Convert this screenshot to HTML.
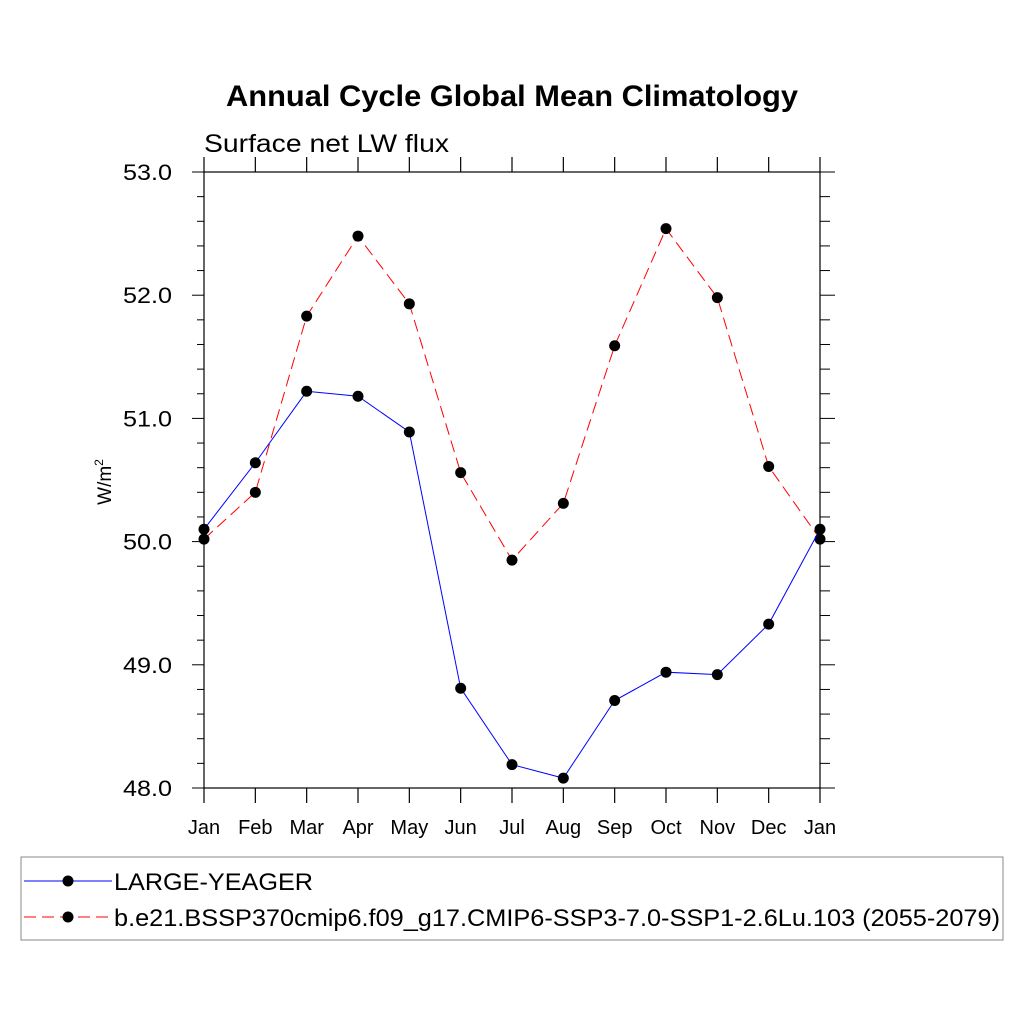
<!DOCTYPE html>
<html><head><meta charset="utf-8"><style>
body{margin:0;background:#fff;}
svg{display:block;font-family:"Liberation Sans",sans-serif;}
</style></head><body>
<svg id="c" width="1024" height="1024" viewBox="0 0 1024 1024">
<text x="226" y="106" textLength="572" lengthAdjust="spacingAndGlyphs" font-size="30" font-weight="bold">Annual Cycle Global Mean Climatology</text>
<text x="204" y="152" textLength="245" lengthAdjust="spacingAndGlyphs" font-size="25">Surface net LW flux</text>
<text transform="translate(111,482) rotate(-90)" text-anchor="middle" font-size="19">W/m<tspan dy="-8" font-size="12">2</tspan></text>
<g id="axes"></g>
<g id="series"></g>
<rect x="21" y="857" width="982" height="83" fill="none" stroke="#888" stroke-width="1"/>
<g>
<line x1="24" y1="881" x2="112" y2="881" stroke="#0000ff" stroke-width="1"/>
<circle cx="68" cy="881" r="5.5" fill="#000"/>
<text x="114" y="890" textLength="199" lengthAdjust="spacingAndGlyphs" font-size="24">LARGE-YEAGER</text>
</g>
<g>
<line x1="24" y1="917" x2="112" y2="917" stroke="#ff0000" stroke-width="1" stroke-dasharray="12,6"/>
<circle cx="68" cy="917" r="5.5" fill="#000"/>
<text x="114" y="926" textLength="886" lengthAdjust="spacingAndGlyphs" font-size="24">b.e21.BSSP370cmip6.f09_g17.CMIP6-SSP3-7.0-SSP1-2.6Lu.103 (2055-2079)</text>
</g>
</svg>
<script>
const months = ["Jan","Feb","Mar","Apr","May","Jun","Jul","Aug","Sep","Oct","Nov","Dec","Jan"];
const blueValues = [50.10,50.64,51.22,51.18,50.89,48.81,48.19,48.08,48.71,48.94,48.92,49.33,50.10];
const redValues = [50.02,50.40,51.83,52.48,51.93,50.56,49.85,50.31,51.59,52.54,51.98,50.61,50.02];
const yTickLabels = ["48.0","49.0","50.0","51.0","52.0","53.0"];
const yMin = 48, yMax = 53;

const NS = "http://www.w3.org/2000/svg";
const X0=204, X1=820, Y0=788, Y1=172;
const xs = i => X0 + (X1-X0)*i/(months.length-1);
const ys = v => Y0 - (Y0-Y1)*(v-yMin)/(yMax-yMin);
function mk(tag, attrs, parent){const e=document.createElementNS(NS,tag);for(const k in attrs)e.setAttribute(k,attrs[k]);parent.appendChild(e);return e;}
const axes=document.getElementById('axes'), ser=document.getElementById('series');

const frame = mk('rect',{x:X0,y:Y1,width:X1-X0,height:Y0-Y1,fill:'none',stroke:'#000','stroke-width':1.2},axes);



months.forEach((m,i)=>{
  const x=xs(i);
  const t1=mk('line',{x1:x,y1:Y0,x2:x,y2:Y0+15,stroke:'#000','stroke-width':1.2},axes);
  
  
  const t2=mk('line',{x1:x,y1:Y1,x2:x,y2:Y1-15,stroke:'#000','stroke-width':1.2},axes);
  
  
  const tx=mk('text',{x:x,y:834,'text-anchor':'middle','font-size':20},axes);
  tx.textContent=m;
  
  
});
for(let k=0;k<=25;k++){
  const v=yMin+k*0.2, y=ys(v), major=k%5===0, L=major?12:7;
  const a=mk('line',{x1:X0-L,y1:y,x2:X0,y2:y,stroke:'#000','stroke-width':1},axes);
  
  
  const b=mk('line',{x1:X1,y1:y,x2:X1+L+3,y2:y,stroke:'#000','stroke-width':1},axes);
  
  
}
yTickLabels.forEach((l,i)=>{
  const t=mk('text',{x:172,y:ys(yMin+i)+8,'text-anchor':'end','font-size':22,textLength:49,lengthAdjust:'spacingAndGlyphs'},axes);
  t.textContent=l;
  
  
});
function series(vals,color,dash,name){
  const g=mk('g',{},ser);
  
  
  const pl=mk('polyline',{points:vals.map((v,i)=>xs(i)+','+ys(v)).join(' '),fill:'none',stroke:color,'stroke-width':1,'stroke-dasharray':dash},g);
  
  
  vals.forEach((v,i)=>{
    const c=mk('circle',{cx:xs(i),cy:ys(v),r:5.5,fill:'#000'},g);
    
    
  });
}
series(redValues,'#ff0000','12,6','ssp-series');
series(blueValues,'#0000ff','none','large-yeager-series');
</script>
</body></html>
